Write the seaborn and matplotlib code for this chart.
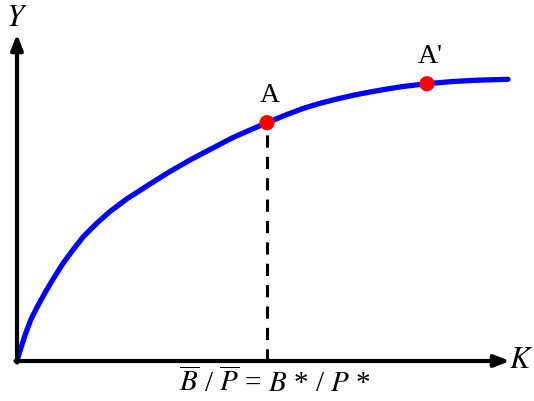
import matplotlib
matplotlib.use("Agg")
import matplotlib.pyplot as plt
import pandas as pd
import seaborn as sns

# curve (origin at the axis corner, units ~ pixels)
curve_x = [0, 3, 5.5, 8.7, 13.7, 20.3, 29, 38, 46.3, 56.3, 66.3, 79.7, 93, 109.7,
           133, 153, 173, 193, 216, 233, 250, 270, 286, 303, 320, 336, 353, 370,
           386, 410, 436, 460, 491]
curve_y = [0, 10, 18, 27.7, 41, 54.3, 70, 85, 98, 111.5, 124.3, 137.7, 149.5, 162,
           177, 189.5, 201, 211.5, 223.5, 231, 238.3, 246.5, 252.5, 257.7, 262,
           265.7, 269, 272, 274.5, 277.3, 279.5, 280.8, 281.7]

point_labels = ["A", "A'"]
point_x = [250, 410]
point_y = [238.3, 277.3]

sns.set_style("white")
plt.rcParams["mathtext.fontset"] = "stix"
plt.rcParams["font.family"] = ["Liberation Serif", "DejaVu Serif"]
plt.rcParams["text.color"] = "black"

fig = plt.figure(figsize=(5.34, 4.01), dpi=100)
ax = fig.add_axes([0, 0, 1, 1])

curve = pd.DataFrame({"x": curve_x, "y": curve_y})
sns.lineplot(data=curve, x="x", y="y", ax=ax, color="#0000ff", lw=3.8, sort=False,
             solid_capstyle="round", solid_joinstyle="round")

pts = pd.DataFrame({"x": point_x, "y": point_y, "label": point_labels})
ax.plot([point_x[0], point_x[0]], [0, point_y[0]], color="black", lw=2.2,
        linestyle=(0, (4, 3)), zorder=2)
sns.scatterplot(data=pts, x="x", y="y", ax=ax, color="#ff0000", s=120,
                edgecolor="none", zorder=4)

for lab, px, py in zip(point_labels, point_x, point_y):
    ax.text(px + 3, py + 15, lab, fontsize=20, ha="center", va="bottom")

# axes with arrow heads
arrow = dict(arrowstyle="-|>,head_length=0.9,head_width=0.35", color="black",
             lw=3, shrinkA=0, shrinkB=0)
ax.annotate("", xy=(493, 0), xytext=(-1.5, 0), arrowprops=arrow)
ax.annotate("", xy=(0, 327), xytext=(0, -1.5), arrowprops=arrow)

ax.text(504, 0, "$K$", fontsize=22, ha="center", va="center")
ax.text(0, 342, "$Y$", fontsize=22, ha="center", va="center")
ax.text(258, -22, r"$\overline{B}$ / $\overline{P}$ = $B$ * / $P$ *",
        fontsize=21, ha="center", va="center")

ax.set_xlim(-17, 517)
ax.set_ylim(-40, 361)
ax.set_axis_off()

fig.savefig("out.png", dpi=100)
